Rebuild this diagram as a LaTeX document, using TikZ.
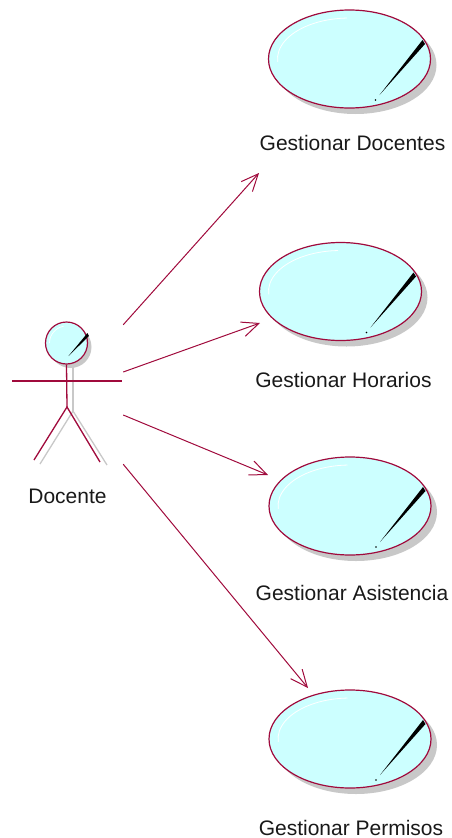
\documentclass[tikz,border=0pt]{standalone}
\usepackage{fontspec}
\setmainfont{Liberation Sans}
\usepackage{xcolor}
\usepackage{tikz}
\usetikzlibrary{shapes.geometric, arrows.meta, positioning, shadows}

\definecolor{roseline}{RGB}{160,10,60}
\definecolor{rosefill}{RGB}{204,255,255}
\definecolor{roseshadow}{RGB}{200,200,200}

% black glint + white highlight of a use case
\newcommand{\ucglint}[1]{%
  \fill[black] ([shift={(73,-19)}]#1.center) -- ([shift={(75.5,-15)}]#1.center) -- ([shift={(30,36)}]#1.center) -- cycle;
  \fill[black] ([shift={(26,41)}]#1.center) circle[radius=0.8pt];
  \draw[white, line width=0.8pt] ([shift={(176:72 and 41)}]#1.center) arc[start angle=176, end angle=268, x radius=72, y radius=41];
}

\begin{document}
\begin{tikzpicture}[
    x=1pt, y=-1pt,
    usecase/.style={ellipse, draw=roseline, fill=rosefill, line width=1.2pt, minimum width=162pt, minimum height=98pt, inner sep=0pt,
      drop shadow={shadow xshift=6pt, shadow yshift=-6pt, fill=roseshadow, opacity=1}},
    actorhead/.style={circle, draw=roseline, fill=rosefill, line width=1.2pt, minimum size=42pt, inner sep=0pt,
      drop shadow={shadow xshift=4pt, shadow yshift=-4pt, fill=roseshadow, opacity=1}},
    ucname/.style={font=\fontsize{21}{25}\selectfont, text=black!90, inner sep=0pt},
    actorline/.style={draw=roseline, line width=1.3pt},
    actorshadow/.style={draw=roseshadow, line width=1.3pt},
    assoc/.style={-{Straight Barb[length=17pt, width=15pt]}, draw=roseline, line width=1pt}
]
\useasboundingbox (0,0) rectangle (451,838);

% Actor
\node[inner sep=0pt, minimum width=111pt, minimum height=139pt] (actor) at (67.5,394.5) {};
\coordinate (hip) at (67,407);
\draw[actorshadow] (73,366) -- (73,411);
\draw[actorshadow] (40,464) -- (73,411) -- (107,465);
\node[actorhead] (head) at (66.5,343) {};
\fill[black] ([shift={(21,-10)}]head.center) -- ([shift={(22.5,-7)}]head.center) -- ([shift={(2,13)}]head.center) -- cycle;
\draw[white, line width=0.7pt] ([shift={(180:17)}]head.center) arc[start angle=180, end angle=260, radius=17];
\draw[actorline] (head.south) -- (hip);
\draw[actorline] (12,381) -- (122,381);
\draw[actorline] (34,460) -- (hip) -- (100,462);
\node[ucname, below=25pt of actor] (lblactor) {Docente};

% Use cases
\node[usecase] (docentes) at (349.5,59) {};
\ucglint{docentes}
\node[ucname, below=26pt of docentes, xshift=3pt] (lbldocentes) {Gestionar Docentes};

\node[usecase] (horarios) at (340.5,291.5) {};
\ucglint{horarios}
\node[ucname, below=31pt of horarios, xshift=3pt] (lblhorarios) {Gestionar Horarios};

\node[usecase] (asistencia) at (350,506) {};
\ucglint{asistencia}
\node[ucname, below=29pt of asistencia, xshift=2pt] (lblasistencia) {Gestionar Asistencia};

\node[usecase] (permisos) at (350,739) {};
\ucglint{permisos}
\node[ucname, below=31pt of permisos, xshift=1pt] (lblpermisos) {Gestionar Permisos};

% Connectors
\coordinate (tipdocentes) at (259,173);
\coordinate (tiphorarios) at (260,323);
\coordinate (tipasistencia) at (268,475);
\coordinate (tippermisos) at (308,688);

\draw[assoc] (actor.north east) -- (tipdocentes);
\draw[assoc] ([yshift=22.5pt]actor.east) -- (tiphorarios);
\draw[assoc] ([yshift=-20.5pt]actor.east) -- (tipasistencia);
\draw[assoc] (actor.south east) -- (tippermisos);

\end{tikzpicture}
\end{document}
